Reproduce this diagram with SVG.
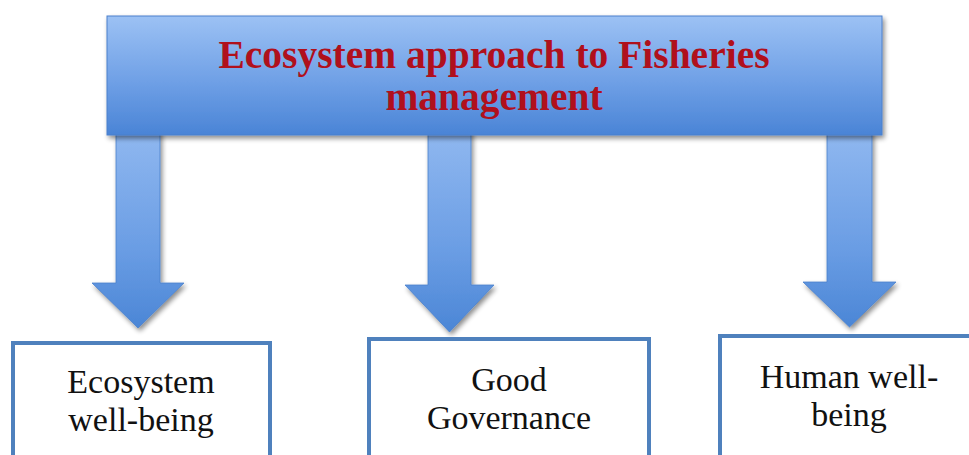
<svg xmlns="http://www.w3.org/2000/svg" width="969" height="455" viewBox="0 0 969 455">
  <defs>
    <linearGradient id="gTop" x1="0" y1="0" x2="0" y2="1">
      <stop offset="0" stop-color="#9cc1f4"/>
      <stop offset="0.55" stop-color="#6fa0e6"/>
      <stop offset="1" stop-color="#4a84d6"/>
    </linearGradient>
    <linearGradient id="gArrow" x1="0" y1="0" x2="0" y2="1">
      <stop offset="0" stop-color="#90b8f0"/>
      <stop offset="0.6" stop-color="#6a9de4"/>
      <stop offset="1" stop-color="#4b86d6"/>
    </linearGradient>
    <filter id="shadow" x="-10%" y="-10%" width="130%" height="140%">
      <feGaussianBlur in="SourceAlpha" stdDeviation="2.5"/>
      <feOffset dx="2" dy="3" result="b"/>
      <feComponentTransfer><feFuncA type="linear" slope="0.45"/></feComponentTransfer>
      <feMerge><feMergeNode/><feMergeNode in="SourceGraphic"/></feMerge>
    </filter>
  </defs>
  <style>
    .arrow { fill: url(#gArrow); stroke: #4a80cc; stroke-width: 0.8; filter: url(#shadow); }
    .box { fill: #ffffff; stroke: #4f81bd; stroke-width: 4; }
    .title { font-family: "Liberation Serif", "Times New Roman", serif; font-weight: bold; font-size: 39.5px; fill: #b0101c; text-anchor: middle; }
    .label { font-family: "Liberation Serif", "Times New Roman", serif; font-size: 34px; fill: #111111; text-anchor: middle; }
  </style>
  <rect width="969" height="455" fill="#ffffff"/>

  <!-- connectors: block arrows from the header down to each pillar -->
  <g id="connectors">
    <path class="arrow" d="M116 130 H160 V283 H184 L138 328 L92 283 H116 Z"/>
    <path class="arrow" d="M428 130 H471 V285 H494 L449.5 332 L405 285 H428 Z"/>
    <path class="arrow" d="M827 130 H872 V282 H896 L849.5 327 L803 282 H827 Z"/>
  </g>

  <g id="header">
    <rect x="107" y="16" width="775" height="119" fill="url(#gTop)" stroke="#4a80cc" stroke-width="1" filter="url(#shadow)"/>
    <text class="title" x="494" y="68">Ecosystem approach to Fisheries</text>
    <text class="title" x="494" y="110">management</text>
  </g>

  <g id="ecosystem">
    <rect class="box" x="13" y="343" width="257" height="130"/>
    <text class="label" x="141" y="393">Ecosystem</text>
    <text class="label" x="141" y="431">well-being</text>
  </g>

  <g id="governance">
    <rect class="box" x="369" y="339" width="280" height="130"/>
    <text class="label" x="509" y="391">Good</text>
    <text class="label" x="509" y="429">Governance</text>
  </g>

  <g id="human">
    <rect class="box" x="720" y="336" width="270" height="130"/>
    <text class="label" x="849" y="388">Human well-</text>
    <text class="label" x="849" y="426">being</text>
  </g>
</svg>
